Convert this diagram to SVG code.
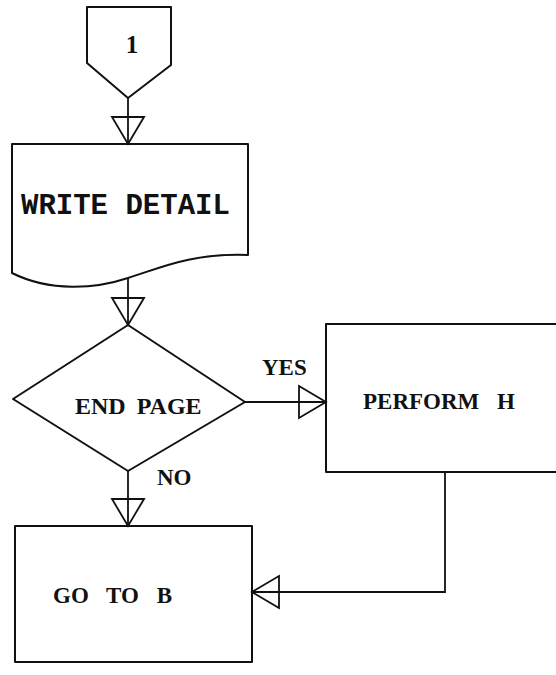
<svg xmlns="http://www.w3.org/2000/svg" width="556" height="675" viewBox="0 0 556 675">
  <style>
    .shape { fill: none; stroke: #111; stroke-width: 2; stroke-linejoin: round; }
    .conn { fill: none; stroke: #111; stroke-width: 1.8; }
    .lbl { font-family: "Liberation Serif", "Times New Roman", serif; font-weight: bold; fill: #111; }
    .mono { font-family: "Liberation Mono", "Courier New", monospace; font-weight: bold; fill: #111; }
  </style>
  <defs>
    <marker id="open" viewBox="-1 -1 29 34" refX="27" refY="16" markerWidth="29" markerHeight="34" markerUnits="userSpaceOnUse" orient="auto" overflow="visible">
      <path d="M0,0 L27,16 L0,32 Z" fill="none" stroke="#111" stroke-width="1.8" stroke-linejoin="miter"/>
    </marker>
  </defs>
  <rect width="556" height="675" fill="#fff"/>

  <g id="connectors">
    <line class="conn" x1="128" y1="98" x2="128" y2="144" marker-end="url(#open)"/>
    <line class="conn" x1="128" y1="278" x2="128" y2="325" marker-end="url(#open)"/>
    <line class="conn" x1="245" y1="402" x2="326" y2="402" marker-end="url(#open)"/>
    <line class="conn" x1="128" y1="471" x2="128" y2="526" marker-end="url(#open)"/>
    <polyline class="conn" points="445,472 445,592 252,592" marker-end="url(#open)"/>
  </g>

  <g id="node-connector-1">
    <path class="shape" d="M87,7 L171,7 L171,65 L128,98 L87,63 Z"/>
    <text class="lbl" x="132" y="53" font-size="25" text-anchor="middle">1</text>
  </g>

  <g id="node-write-detail">
    <path class="shape" d="M12,144 L248,144 L248,255 C190,253 160,268 128,278 C95,289 50,292 12,273 Z"/>
    <text class="mono" x="21" y="214" font-size="29">WRITE DETAIL</text>
  </g>

  <g id="node-end-page">
    <path class="shape" d="M128,325 L245,402 L128,471 L13,399 Z"/>
    <text class="lbl" x="75" y="414" font-size="24" word-spacing="5">END PAGE</text>
  </g>

  <g id="node-perform-h">
    <rect class="shape" x="326" y="324" width="240" height="148"/>
    <text class="lbl" x="363" y="409" font-size="23" word-spacing="12">PERFORM H</text>
  </g>

  <g id="node-go-to-b">
    <rect class="shape" x="15" y="526" width="237" height="136"/>
    <text class="lbl" x="53" y="603" font-size="23" word-spacing="12">GO TO B</text>
  </g>

  <g id="labels">
    <text class="lbl" x="262" y="375" font-size="23">YES</text>
    <text class="lbl" x="157" y="485" font-size="23">NO</text>
  </g>
</svg>
